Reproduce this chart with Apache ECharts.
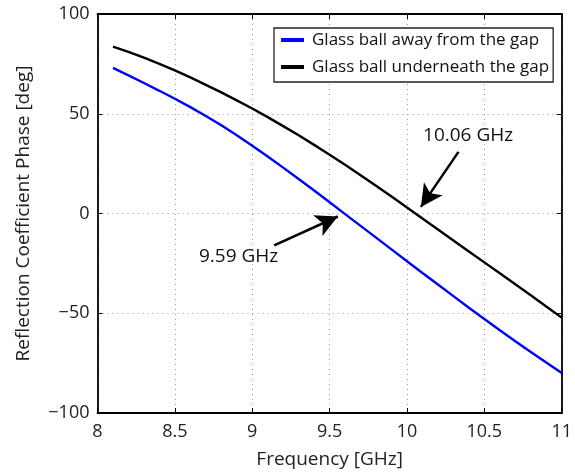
<!DOCTYPE html>
<html>
<head>
<meta charset="utf-8">
<script src="https://cdn.jsdelivr.net/npm/echarts@6/dist/echarts.min.js"></script>
<style>html,body{margin:0;padding:0;background:#fff}#c{width:575px;height:474px}</style>
</head>
<body>
<div id="c"></div>
<script>
const freqs = [8.1,8.2,8.3,8.4,8.5,8.6,8.7,8.8,8.9,9.0,9.1,9.2,9.3,9.4,9.5,9.6,9.7,9.8,9.9,10.0,10.1,10.2,10.3,10.4,10.5,10.6,10.7,10.8,10.9,11.0];
const awayPhase = [73.0,69.2,65.4,61.5,57.5,53.3,48.9,44.2,39.2,34.0,28.6,23.0,17.3,11.5,5.6,-0.3,-6.2,-12.1,-18.0,-23.9,-29.8,-35.6,-41.4,-47.2,-52.9,-58.5,-64.0,-69.4,-74.7,-80.0];
const underPhase = [83.7,81.0,78.1,75.0,71.7,68.2,64.5,60.7,56.7,52.6,48.3,43.8,39.2,34.4,29.5,24.4,19.2,13.9,8.5,3.0,-2.5,-8.0,-13.5,-19.0,-24.5,-30.0,-35.5,-41.0,-46.6,-52.2];
const seriesNames = ['Glass ball away from the gap','Glass ball underneath the gap'];
const xTicks = [8, 8.5, 9, 9.5, 10, 10.5, 11];
const yTicks = [-100, -50, 0, 50, 100];
// annotations in data coords: label position, arrow tail, arrow tip
const annotUnder = {text: '10.06 GHz', label: [10.395, 39.2], tail: [10.333, 30.9], tip: [10.09, 3.3]};
const annotAway = {text: '9.59 GHz', label: [8.912, -21.5], tail: [9.142, -16.0], tip: [9.553, -1.5]};

const FONT = '"Open Sans", "Noto Sans", sans-serif';
const pair = (xs, ys) => xs.map((x, i) => [x, ys[i]]);
const fmt = v => (v < 0 ? '\u2212' + Math.abs(v) : String(v));

function arrowMark(a) {
  return {
    silent: true,
    symbol: ['none', 'arrow'],
    symbolSize: [17, 22],
    lineStyle: {color: '#000', width: 2.5, type: 'solid'},
    label: {show: false},
    data: [[{coord: a.tail}, {coord: a.tip}]]
  };
}
function textMark(a) {
  return {
    silent: true,
    symbol: 'circle',
    symbolSize: 0,
    label: {show: true, position: 'inside', formatter: a.text, color: '#111', fontSize: 19, fontFamily: FONT},
    data: [{coord: a.label}]
  };
}

const chart = echarts.init(document.getElementById('c'));
const axisLine = {show: true, onZero: false, lineStyle: {color: '#000', width: 1.8}};
const tick = {show: true, inside: true, length: 5, lineStyle: {color: '#000', width: 1}};
const grid = {show: true, lineStyle: {color: '#999', type: [1, 4], width: 1}};
chart.setOption({
  animation: false,
  backgroundColor: '#fff',
  textStyle: {fontFamily: FONT},
  grid: {left: 97.5, right: 9.5, top: 14, bottom: 58},
  legend: {
    data: seriesNames,
    orient: 'vertical',
    left: 274, top: 28,
    backgroundColor: '#fff',
    borderColor: '#222', borderWidth: 1.3,
    padding: [2, 4, 5, 7],
    itemWidth: 23, itemHeight: 4,
    itemGap: 7,
    icon: 'rect',
    textStyle: {fontSize: 17, color: '#111', fontFamily: FONT, lineHeight: 20, padding: [0, 0, 0, 3]}
  },
  xAxis: [{
    type: 'value', min: 8, max: 11, interval: 0.5,
    name: 'Frequency [GHz]', nameLocation: 'middle', nameGap: 37,
    nameTextStyle: {fontSize: 19, color: '#222', fontFamily: FONT},
    axisLine: axisLine, axisTick: tick,
    axisLabel: {fontSize: 18, color: '#222', margin: 10, formatter: v => String(v)},
    splitLine: grid
  }, {
    type: 'value', min: 8, max: 11, interval: 0.5, position: 'top',
    axisLine: axisLine, axisTick: tick,
    axisLabel: {show: false}, splitLine: {show: false}
  }],
  yAxis: [{
    type: 'value', min: -100, max: 100, interval: 50,
    name: 'Reflection Coefficient Phase [deg]', nameLocation: 'middle', nameGap: 64,
    nameTextStyle: {fontSize: 19, color: '#222', fontFamily: FONT},
    axisLine: axisLine, axisTick: tick,
    axisLabel: {fontSize: 18, color: '#222', margin: 8, formatter: fmt},
    splitLine: grid
  }, {
    type: 'value', min: -100, max: 100, interval: 50, position: 'right',
    axisLine: axisLine, axisTick: tick,
    axisLabel: {show: false}, splitLine: {show: false}
  }],
  series: [{
    name: seriesNames[0], type: 'line', data: pair(freqs, awayPhase),
    showSymbol: false, symbol: 'none',
    lineStyle: {color: '#0000ff', width: 2.4}, itemStyle: {color: '#0000ff'},
    markLine: arrowMark(annotAway), markPoint: textMark(annotAway)
  }, {
    name: seriesNames[1], type: 'line', data: pair(freqs, underPhase),
    showSymbol: false, symbol: 'none',
    lineStyle: {color: '#000', width: 2.4}, itemStyle: {color: '#000'},
    markLine: arrowMark(annotUnder), markPoint: textMark(annotUnder)
  }]
});
</script>
</body>
</html>
